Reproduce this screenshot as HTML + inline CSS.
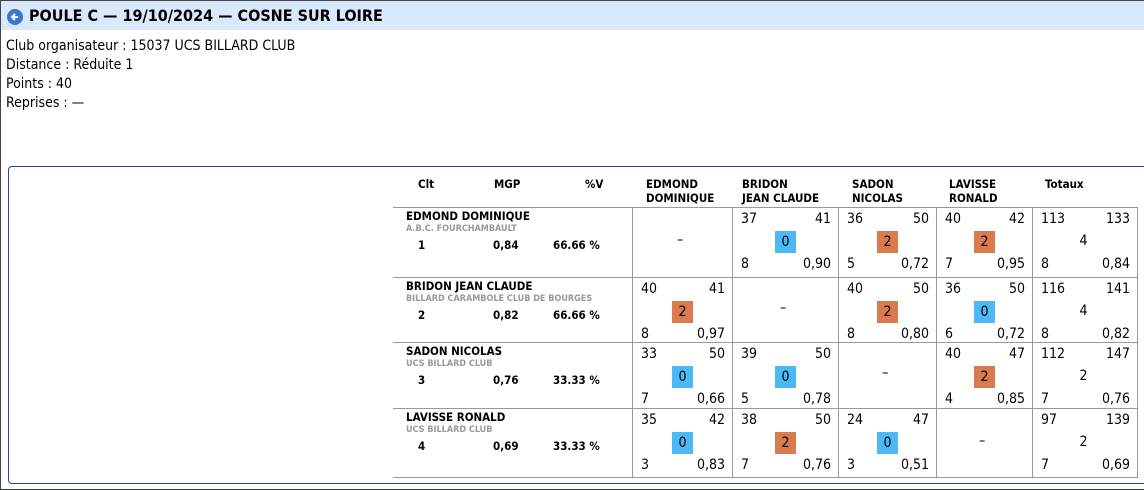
<!DOCTYPE html>
<html><head><meta charset="utf-8"><style>
*{margin:0;padding:0;box-sizing:border-box}
body{width:1144px;height:490px;overflow:hidden;background:#fff;font-family:"DejaVu Sans Condensed","Liberation Sans",sans-serif;position:relative;color:#000}
#frame{position:absolute;left:0;top:0;width:1146px;height:490px;border:1px solid #444;border-right:none}
#hdr{position:absolute;left:1px;top:1px;width:1143px;height:29px;background:#dae8fc}
#hdr .t{position:absolute;left:28px;top:5px;font:bold 16px "DejaVu Sans Condensed","Liberation Sans",sans-serif}
#back{position:absolute;left:6px;top:8px;width:16px;height:16px;border-radius:50%;background:#3a78d0}
#info{position:absolute;left:6px;top:37px;font:14px/19px "DejaVu Sans Condensed","Liberation Sans",sans-serif}
#panel{position:absolute;left:8px;top:166px;width:1140px;height:318px;border:1.5px solid #2343a0;border-right:none;border-radius:4px 0 0 4px}
.a{position:absolute;white-space:nowrap}
.h{font-weight:bold;font-size:11.5px;line-height:14px}
.n{font-size:14px;line-height:16px}
.b{position:absolute;width:21px;height:22px;font-size:14px;line-height:22px;text-align:center}
.line{position:absolute;background:#999}
</style></head><body>
<div id="frame"></div>
<div id="hdr">
<div id="back"><svg width="16" height="16"><path d="M11 8H5M8 5L5 8L8 11" stroke="#fff" stroke-width="2" fill="none"/></svg></div>
<div class="t">POULE C — 19/10/2024 — COSNE SUR LOIRE</div></div>
<div id="info">Club organisateur : 15037 UCS BILLARD CLUB<br>Distance : Réduite 1<br>Points : 40<br>Reprises : —</div>
<div id="panel"></div>
<div id="grid"></div>
<script>
const players=["EDMOND DOMINIQUE","BRIDON JEAN CLAUDE","SADON NICOLAS","LAVISSE RONALD"];
const clubs=["A.B.C. FOURCHAMBAULT","BILLARD CARAMBOLE CLUB DE BOURGES","UCS BILLARD CLUB","UCS BILLARD CLUB"];
const clt=["1","2","3","4"];
const mgp=["0,84","0,82","0,76","0,69"];
const pctV=["66.66 %","66.66 %","33.33 %","33.33 %"];
const colHeads=[["EDMOND","DOMINIQUE"],["BRIDON","JEAN CLAUDE"],["SADON","NICOLAS"],["LAVISSE","RONALD"]];
// matches[row][col] = [points, distance, matchPts, reprises, moyenne] or null
const matches=[
[null,[37,41,0,8,"0,90"],[36,50,2,5,"0,72"],[40,42,2,7,"0,95"]],
[[40,41,2,8,"0,97"],null,[40,50,2,8,"0,80"],[36,50,0,6,"0,72"]],
[[33,50,0,7,"0,66"],[39,50,0,5,"0,78"],null,[40,47,2,4,"0,85"]],
[[35,42,0,3,"0,83"],[38,50,2,7,"0,76"],[24,47,0,3,"0,51"],null]];
const totals=[[113,133,4,8,"0,84"],[116,141,4,8,"0,82"],[112,147,2,7,"0,76"],[97,139,2,7,"0,69"]];
const rowTops=[207,277,342,408,477];
const colX=[393,632,732,838,936,1032,1137];
const g=document.getElementById('grid');
function el(cls,x,y,txt,name,style){const d=document.createElement('div');d.className=cls;d.style.left=x+'px';d.style.top=y+'px';if(style)d.style.cssText+=style;d.textContent=txt;


g.appendChild(d);return d;}
el('a h',418,177,'Clt','header-clt');el('a h',494,177,'MGP','header-mgp');el('a h',585,177,'%V','header-pct-v');
const hx=[646,742,852,949];
colHeads.forEach((c,i)=>{el('a h',hx[i],177,c[0],'header-opponent');el('a h',hx[i],191,c[1],'header-opponent');});
el('a h',1045,177,'Totaux','header-totaux');
// lines
for(let r=0;r<5;r++)el('line',393,rowTops[r],'','row-line','width:744px;height:1px');
for(let c=1;c<7;c++)el('line',colX[c],rowTops[0],'','col-line','width:1px;height:'+(rowTops[4]-rowTops[0]+1)+'px');
function cell(x0,x1,y,v,total,name){
 el('a n',x0+9,y+4,String(v[0]),name+'-points');
 el('a n',x0,y+4,String(v[1]),name+'-distance','width:'+(x1-x0-7)+'px;text-align:right');
 const cx=(x0+x1)/2;
 if(total){el('a n',cx-5,y+26,String(v[2]),name+'-match-points');}
 else{el('b',cx-10,y+24,String(v[2]),name+'-match-points','background:'+(v[2]==2?'#d97a4f':'#4cb8f5'));}
 el('a n',x0+9,y+49,String(v[3]),name+'-reprises');
 el('a n',x0,y+49,v[4],name+'-moyenne','width:'+(x1-x0-7)+'px;text-align:right');
}
players.forEach((p,r)=>{
 const y=rowTops[r];
 el('a h',406,y+2,p,'player-name','font-size:11.5px');
 el('a',406,y+17,clubs[r],'player-club','font:bold 9px "DejaVu Sans Condensed","Liberation Sans",sans-serif;color:#999');
 el('a h',418,y+31,clt[r],'player-rank');
 el('a h',493,y+31,mgp[r],'player-mgp');
 el('a h',553,y+31,pctV[r],'player-pct-v');
 for(let c=0;c<4;c++){
  const m=matches[r][c];const x0=colX[c+1],x1=colX[c+2];
  if(!m){el('a n',(x0+x1)/2-5,y+(rowTops[r+1]-y)/2-10,'–','empty-cell');}
  else cell(x0,x1,y,m,false,'match-cell');
 }
 cell(colX[5],colX[6],y,totals[r],true,'total-cell');
});
</script>
</body></html>
